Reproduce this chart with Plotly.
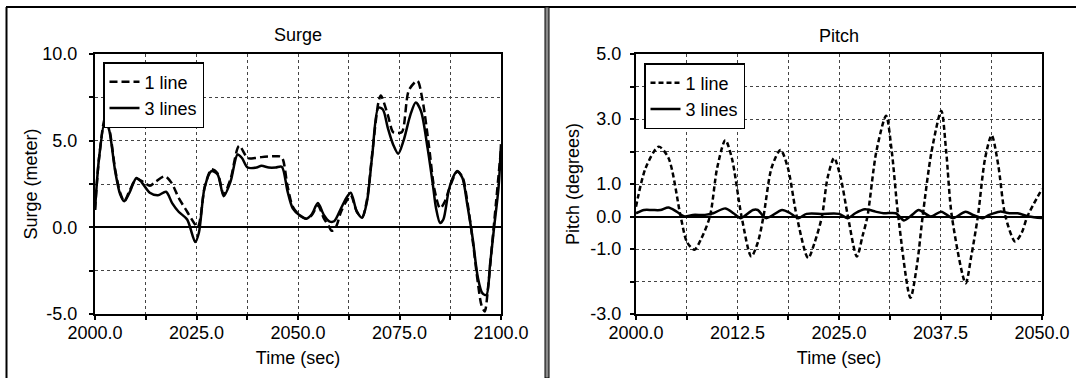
import plotly.graph_objects as go

# ---------------- data ----------------
surge_t_1line = [2000, 2001, 2002.5, 2003.5, 2005, 2006.2, 2007.2, 2008.5, 2010.2, 2012, 2013.5, 2015,
                 2017.2, 2018.9, 2020.6, 2022.7, 2024.4, 2025.3, 2026, 2027, 2028.7, 2030.2, 2031.7,
                 2033.4, 2035.5, 2037.6, 2039.4, 2041, 2044.5, 2046, 2047.4, 2048.7, 2050.4, 2052.1,
                 2053.4, 2054.9, 2056.4, 2057.5, 2058.3, 2059.3, 2060.6, 2061.9, 2063, 2064.5, 2065.8,
                 2067, 2068.3, 2069.8, 2070.4, 2072.1, 2073.4, 2074.3, 2075.6, 2077.3, 2079.4, 2080.7,
                 2082.3, 2083.6, 2085, 2086.2, 2087.5, 2089.2, 2090.5, 2091.7, 2093, 2094.3, 2095.2,
                 2096, 2096.8, 2097.8, 2098.8, 2100]
surge_v_1line = [1.0, 4.0, 6.3, 5.7, 3.3, 2.0, 1.5, 2.1, 2.8, 2.6, 2.4, 2.65,
                 2.95, 2.55, 1.7, 0.9, 0.25, 0.0, 0.6, 2.3, 3.35, 3.1, 1.9,
                 2.8, 4.7, 4.0, 4.0, 4.05, 4.1, 4.05, 2.4, 1.2, 0.7, 0.5,
                 0.7, 1.25, 0.5, 0.1, -0.2, 0.0, 0.9, 1.5, 1.85, 0.9, 0.6,
                 1.6, 4.3, 7.2, 7.6, 6.5, 5.5, 5.45, 5.5, 7.9, 8.45, 7.3,
                 4.6, 2.2, 1.1, 1.5, 2.4, 3.2, 2.9, 1.5, -0.7, -3.2, -4.5,
                 -4.85, -3.5, -1.0, 1.5, 4.5]

surge_t_3lines = [2000, 2001, 2002.5, 2003.5, 2005, 2006.2, 2007.2, 2008.5, 2010.2, 2011.5, 2013.5,
                  2015.5, 2017.5, 2019, 2020.6, 2022.7, 2024.7, 2025.6, 2027, 2028.7, 2030.2, 2031.7,
                  2033.4, 2035.1, 2036.2, 2037.6, 2039.8, 2041, 2042.8, 2044.5, 2046, 2047.4, 2048.7,
                  2050.4, 2052.1, 2053.4, 2054.9, 2056.4, 2057.7, 2058.9, 2060.6, 2061.9, 2063, 2064.5,
                  2065.8, 2067, 2068.3, 2069.8, 2070.9, 2072.1, 2073.4, 2074.7, 2076, 2077.7, 2079,
                  2080.3, 2081.9, 2083.2, 2084, 2085, 2085.8, 2087.1, 2088.1, 2089.2, 2090.5, 2091.7,
                  2093, 2094.3, 2095.4, 2096.4, 2097.3, 2098.3, 2099.4, 2100]
surge_v_3lines = [1.0, 4.0, 6.2, 5.6, 3.2, 1.9, 1.5, 2.0, 2.85, 2.6, 2.0,
                  1.85, 2.05, 1.4, 0.9, 0.45, -0.85, -0.3, 2.3, 3.25, 3.05, 1.8,
                  2.65, 4.2, 4.0, 3.45, 3.45, 3.55, 3.45, 3.45, 3.5, 2.1, 1.1,
                  0.7, 0.5, 0.75, 1.4, 0.7, 0.35, 0.35, 1.1, 1.7, 2.0, 0.9,
                  0.55, 1.5, 4.2, 6.9, 6.8, 5.75, 4.8, 4.25, 5.0, 6.5, 7.2,
                  6.7, 4.6, 2.5, 1.1, 0.25, 0.45, 2.1, 2.85, 3.25, 2.85, 1.3,
                  -0.6, -2.9, -3.8, -3.9, -2.15, 0.0, 2.3, 4.8]

pitch_t_1line = [2000, 2001.2, 2002.8, 2004, 2005.5, 2006.3, 2007.2, 2008, 2009.1, 2010, 2011,
                 2011.8, 2013, 2014.2, 2015, 2015.7, 2016.7, 2017.8, 2018.7, 2019.8, 2021.2, 2022,
                 2022.9, 2023.6, 2024.4, 2025.2, 2026.1, 2027.2, 2027.9, 2028.5, 2029.6, 2030.8,
                 2031.5, 2032.3, 2033.8, 2034.6, 2035.3, 2036.4, 2037.6, 2038.2, 2038.9, 2040.6,
                 2041.3, 2042.1, 2043, 2043.8, 2044.6, 2045.5, 2046.7, 2047.5, 2048.2, 2050]
pitch_v_1line = [0.3, 1.5, 2.15, 1.8, 0.0, -0.8, -1.02, -0.7, 0.0, 1.5, 2.35,
                 1.8, 0.0, -1.23, -0.8, 0.0, 1.5, 2.05, 1.5, 0.0, -1.28, -0.8,
                 0.0, 1.2, 1.8, 1.2, 0.0, -1.23, -0.6, 0.0, 2.0, 3.1,
                 2.0, 0.0, -2.5, -1.5, 0.0, 2.0, 3.25, 2.0, 0.0, -2.05,
                 -1.2, 0.0, 1.8, 2.5, 1.6, 0.0, -0.77, -0.5, 0.0, 0.85]

pitch_t_3lines = [2000, 2001, 2002, 2003, 2004, 2005, 2006, 2007, 2008.5, 2009.5, 2011, 2012,
                  2012.9, 2014.4, 2015, 2016, 2018, 2019, 2020, 2021, 2023, 2025, 2026.1, 2027,
                  2028.2, 2029.5, 2030.5, 2032, 2033, 2034, 2034.8, 2036.3, 2037.6, 2039, 2040.6,
                  2041.5, 2042.7, 2043.5, 2044.8, 2046, 2047, 2048.4, 2050]
pitch_v_3lines = [0.1, 0.2, 0.2, 0.2, 0.28, 0.15, 0.0, 0.05, 0.05, 0.1, 0.25, 0.1,
                  -0.05, 0.2, 0.2, -0.05, 0.2, 0.1, -0.05, 0.08, 0.08, 0.08, -0.05, 0.1,
                  0.22, 0.15, 0.1, 0.1, -0.12, 0.05, 0.2, 0.0, 0.15, -0.05, 0.15,
                  0.05, -0.05, 0.05, 0.15, 0.1, 0.1, 0.0, -0.05]

surge_xticks = [2000 + 12.5 * i for i in range(9)]
surge_xtext = ["2000.0", "", "2025.0", "", "2050.0", "", "2075.0", "", "2100.0"]
surge_yticks = [-5, -2.5, 0, 2.5, 5, 7.5, 10]
surge_ytext = ["-5.0", "", "0.0", "", "5.0", "", "10.0"]

pitch_xticks = [2000 + 6.25 * i for i in range(9)]
pitch_xtext = ["2000.0", "", "2012.5", "", "2025.0", "", "2037.5", "", "2050.0"]
pitch_yticks = [-3, -2, -1, 0, 1, 2, 3, 4, 5]
pitch_ytext = ["-3.0", "", "-1.0", "0.0", "1.0", "", "3.0", "", "5.0"]

# ---------------- layout geometry ----------------
W, H = 1076, 378
ML, MR, MT, MB = 95, 34, 54, 64
PW, PH = W - ML - MR, H - MT - MB


def px_x(p):
    return (p - ML) / PW


def px_y(p):
    return (H - MB - p) / PH


FONT = "Liberation Sans, Arial, Helvetica, sans-serif"
FS = 18

fig = go.Figure()

fig.add_trace(go.Scatter(x=surge_t_1line, y=surge_v_1line, name="1 line", mode="lines",
                         line=dict(color="black", width=2.5, dash="8px,4px", shape="spline", smoothing=0.8),
                         xaxis="x", yaxis="y", legend="legend"))
fig.add_trace(go.Scatter(x=surge_t_3lines, y=surge_v_3lines, name="3 lines", mode="lines",
                         line=dict(color="black", width=2.5, shape="spline", smoothing=0.8),
                         xaxis="x", yaxis="y", legend="legend"))
fig.add_trace(go.Scatter(x=pitch_t_1line, y=pitch_v_1line, name="1 line", mode="lines",
                         line=dict(color="black", width=2.5, dash="5px,3px", shape="spline", smoothing=0.8),
                         xaxis="x2", yaxis="y2", legend="legend2"))
fig.add_trace(go.Scatter(x=pitch_t_3lines, y=pitch_v_3lines, name="3 lines", mode="lines",
                         line=dict(color="black", width=2.5, shape="spline", smoothing=0.8),
                         xaxis="x2", yaxis="y2", legend="legend2"))

axis_common = dict(
    showline=True, linecolor="black", linewidth=2, mirror=True,
    ticks="outside", ticklen=4, tickwidth=1.5, tickcolor="black",
    showgrid=True, gridcolor="#444", gridwidth=1, griddash="dot",
    tickfont=dict(family=FONT, size=FS, color="black"),
    title_font=dict(family=FONT, size=FS, color="black"),
    tickmode="array",
)

fig.update_layout(
    width=W, height=H,
    margin=dict(l=ML, r=MR, t=MT, b=MB, pad=0),
    paper_bgcolor="white", plot_bgcolor="white",
    font=dict(family=FONT, size=FS, color="black"),
    template="none",
    xaxis=dict(axis_common, domain=[0, px_x(501)], range=[2000, 2100],
               tickvals=surge_xticks, ticktext=surge_xtext, zeroline=False,
               ticklabelstandoff=-3,
               title=dict(text="Time (sec)", standoff=10), anchor="y"),
    yaxis=dict(axis_common, domain=[0, 1], range=[-5, 10],
               tickvals=surge_yticks, ticktext=surge_ytext,
               zeroline=True, zerolinecolor="black", zerolinewidth=1.5,
               ticklabelstandoff=8,
               title=dict(text="Surge (meter)", standoff=0), anchor="x"),
    xaxis2=dict(axis_common, domain=[px_x(636), 1], range=[2000, 2050],
                tickvals=pitch_xticks, ticktext=pitch_xtext, zeroline=False,
                ticklabelstandoff=-3,
                title=dict(text="Time (sec)", standoff=10), anchor="y2"),
    yaxis2=dict(axis_common, domain=[0, 1], range=[-3, 5],
                tickvals=pitch_yticks, ticktext=pitch_ytext,
                zeroline=True, zerolinecolor="black", zerolinewidth=1.5,
                ticklabelstandoff=5,
                title=dict(text="Pitch (degrees)", standoff=6), anchor="x2"),
    legend=dict(x=px_x(103), y=px_y(62), xanchor="left", yanchor="top",
                bgcolor="white", bordercolor="black", borderwidth=1.5,
                font=dict(family=FONT, size=FS, color="black"),
                itemwidth=30, tracegroupgap=0),
    legend2=dict(x=px_x(644), y=px_y(63), xanchor="left", yanchor="top",
                 bgcolor="white", bordercolor="black", borderwidth=1.5,
                 font=dict(family=FONT, size=FS, color="black"),
                 itemwidth=30, tracegroupgap=0),
    showlegend=True,
)

# panel titles
fig.add_annotation(text="Surge", x=px_x(298), y=px_y(35), xref="paper", yref="paper",
                   xanchor="center", yanchor="middle",
                   showarrow=False, font=dict(family=FONT, size=FS, color="black"))
fig.add_annotation(text="Pitch", x=px_x(839), y=px_y(36), xref="paper", yref="paper",
                   xanchor="center", yanchor="middle",
                   showarrow=False, font=dict(family=FONT, size=FS, color="black"))

# panel frames: top rule, left rule and the divider between the two panels
fig.add_shape(type="line", xref="paper", yref="paper", x0=px_x(6), x1=px_x(W), y0=px_y(7), y1=px_y(7),
              line=dict(color="black", width=2))
fig.add_shape(type="line", xref="paper", yref="paper", x0=px_x(6.5), x1=px_x(6.5), y0=px_y(7), y1=px_y(H),
              line=dict(color="black", width=2))
fig.add_shape(type="rect", xref="paper", yref="paper", x0=px_x(545), x1=px_x(549), y0=px_y(7), y1=px_y(H),
              fillcolor="#8a8a8a", line=dict(color="black", width=1))

fig.write_html("out.html")
